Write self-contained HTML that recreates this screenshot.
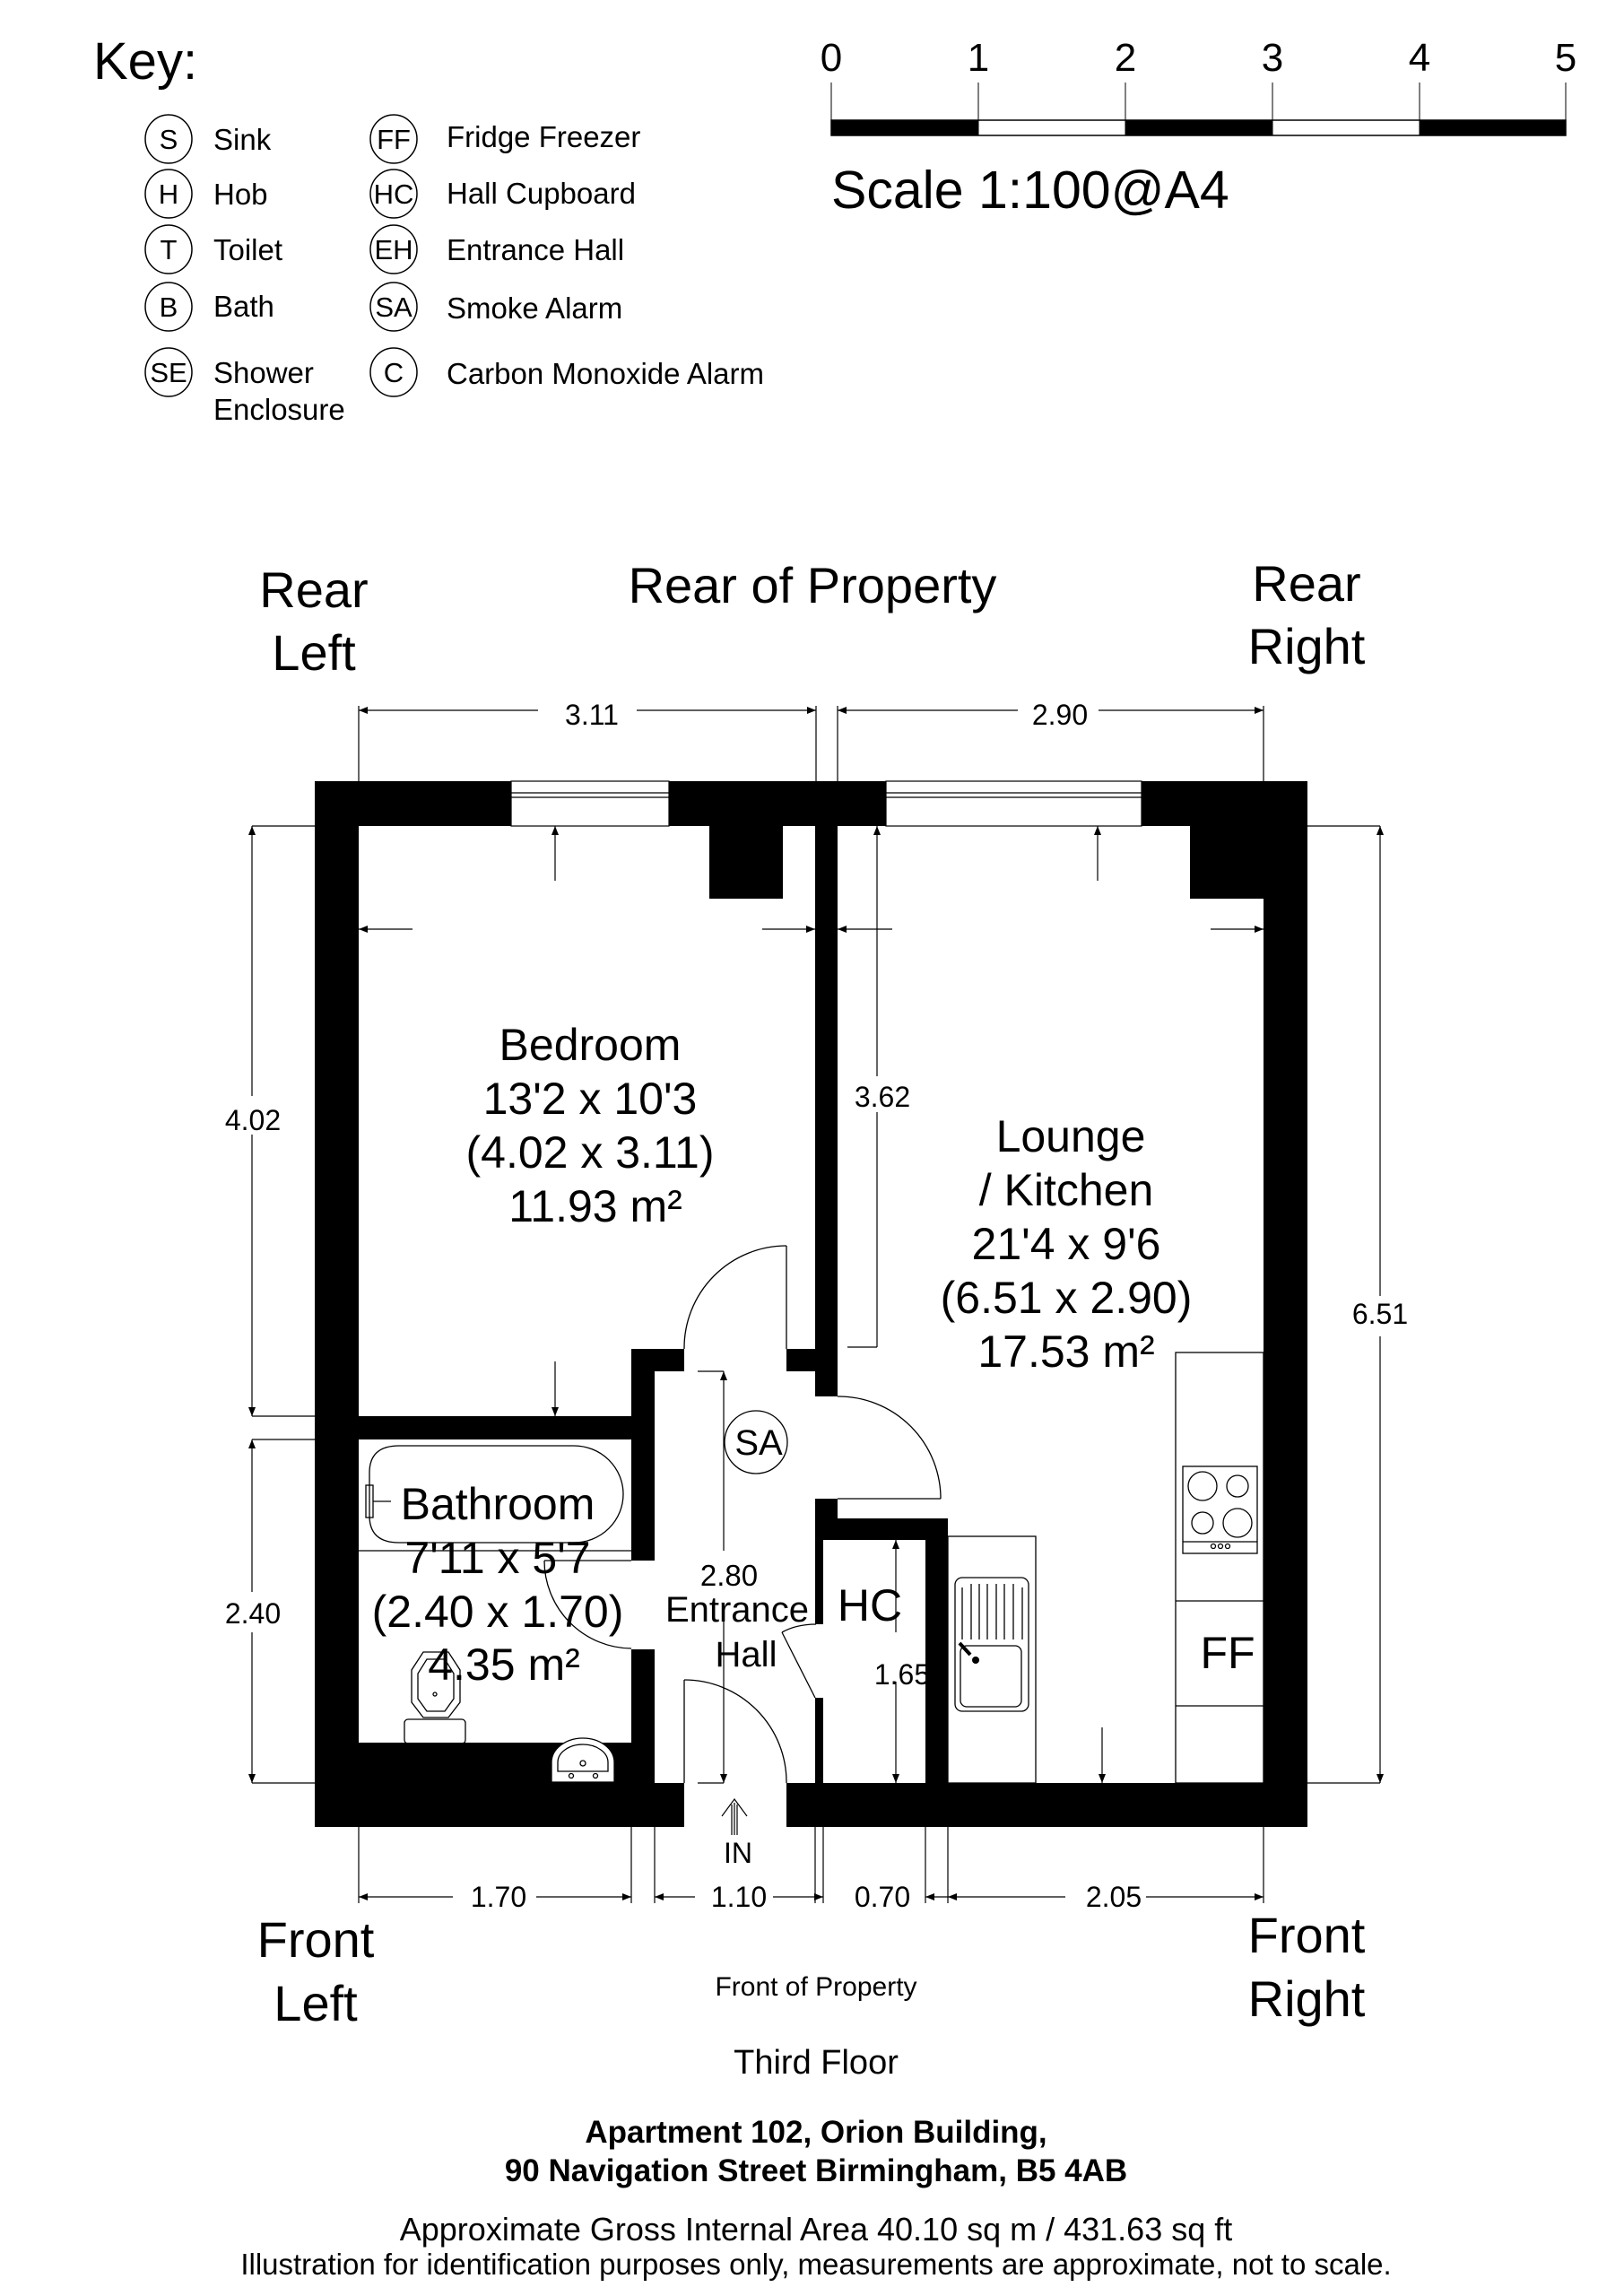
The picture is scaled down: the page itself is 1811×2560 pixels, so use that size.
<!DOCTYPE html>
<html><head><meta charset="utf-8"><style>
html,body{margin:0;padding:0;background:#fff}
svg{display:block}
text{font-family:"Liberation Sans",Arial,sans-serif;fill:#000}
</style></head><body>
<svg width="1811" height="2560" viewBox="0 0 1811 2560" xmlns="http://www.w3.org/2000/svg">
<defs>
<marker id="ah" viewBox="0 0 10 10" refX="10" refY="5" markerWidth="22" markerHeight="10" markerUnits="userSpaceOnUse" orient="auto-start-reverse"><path d="M0,1 L10,5 L0,9 z" fill="#000"/></marker>
</defs>
<text x="104" y="88" font-size="58">Key:</text>
<g fill="none" stroke="#000" stroke-width="1.5">
<ellipse cx="188" cy="155" rx="26" ry="27"/><ellipse cx="188" cy="216" rx="26" ry="27"/><ellipse cx="188" cy="278" rx="26" ry="27"/><ellipse cx="188" cy="342" rx="26" ry="27"/><ellipse cx="188" cy="415" rx="26" ry="27"/>
<ellipse cx="439" cy="155" rx="26" ry="27"/><ellipse cx="439" cy="216" rx="26" ry="27"/><ellipse cx="439" cy="278" rx="26" ry="27"/><ellipse cx="439" cy="342" rx="26" ry="27"/><ellipse cx="439" cy="415" rx="26" ry="27"/>
</g>
<g text-anchor="middle" font-size="31">
<text x="188" y="166">S</text><text x="188" y="227">H</text><text x="188" y="289">T</text><text x="188" y="353">B</text><text x="188" y="426">SE</text>
<text x="439" y="166">FF</text><text x="439" y="227">HC</text><text x="439" y="289">EH</text><text x="439" y="353">SA</text><text x="439" y="426">C</text>
</g>
<g font-size="33">
<text x="238" y="167">Sink</text><text x="238" y="228">Hob</text><text x="238" y="290">Toilet</text><text x="238" y="353">Bath</text><text x="238" y="427">Shower</text><text x="238" y="468">Enclosure</text>
<text x="498" y="164">Fridge Freezer</text><text x="498" y="227">Hall Cupboard</text><text x="498" y="290">Entrance Hall</text><text x="498" y="355">Smoke Alarm</text><text x="498" y="428">Carbon Monoxide Alarm</text>
</g>
<g font-size="44" text-anchor="middle">
<text x="927" y="79">0</text><text x="1091" y="79">1</text><text x="1255" y="79">2</text><text x="1419" y="79">3</text><text x="1583" y="79">4</text><text x="1746" y="79">5</text>
</g>
<g stroke="#000" stroke-width="1">
<line x1="927" y1="92" x2="927" y2="151"/><line x1="1091" y1="92" x2="1091" y2="151"/><line x1="1255" y1="92" x2="1255" y2="151"/><line x1="1419" y1="92" x2="1419" y2="151"/><line x1="1583" y1="92" x2="1583" y2="151"/><line x1="1746" y1="92" x2="1746" y2="151"/>
<rect x="927" y="134" width="819" height="17" fill="none" stroke-width="1.5"/>
</g>
<rect x="927" y="134" width="164" height="17"/><rect x="1255" y="134" width="164" height="17"/><rect x="1583" y="134" width="163" height="17"/>
<text x="927" y="232" font-size="59">Scale 1:100@A4</text>

<g font-size="56" text-anchor="middle">
<text x="350" y="677">Rear</text><text x="350" y="747">Left</text>
<text x="906" y="672">Rear of Property</text>
<text x="1457" y="670">Rear</text><text x="1457" y="740">Right</text>
<text x="352" y="2182">Front</text><text x="352" y="2253">Left</text>
<text x="1457" y="2177">Front</text><text x="1457" y="2248">Right</text>
</g>

<g fill="#000">
<rect x="351" y="871" width="219" height="50"/>
<rect x="746" y="871" width="242" height="50"/>
<rect x="1273" y="871" width="185" height="50"/>
<rect x="791" y="921" width="82" height="81"/>
<rect x="1327" y="921" width="82" height="81"/>
<rect x="351" y="871" width="49" height="1166"/>
<rect x="1409" y="871" width="49" height="1166"/>
<rect x="909" y="921" width="25" height="636"/>
<rect x="877" y="1504" width="57" height="25"/>
<rect x="704" y="1504" width="59" height="25"/>
<rect x="704" y="1504" width="26" height="236"/>
<rect x="704" y="1839" width="26" height="150"/>
<rect x="351" y="1579" width="379" height="26"/>
<rect x="909" y="1671" width="25" height="46"/>
<rect x="909" y="1693" width="148" height="24"/>
<rect x="1032" y="1693" width="25" height="295"/>
<rect x="909" y="1693" width="9" height="118"/>
<rect x="909" y="1893" width="9" height="95"/>
<rect x="351" y="1943" width="379" height="94"/>
<rect x="704" y="1988" width="59" height="49"/>
<rect x="877" y="1988" width="581" height="49"/>
</g>
<g fill="none" stroke="#000" stroke-width="1.2">
<rect x="570" y="871" width="176" height="50"/><line x1="570" y1="889" x2="746" y2="889"/><line x1="570" y1="884" x2="746" y2="884"/>
<rect x="988" y="871" width="285" height="50"/><line x1="988" y1="889" x2="1273" y2="889"/><line x1="988" y1="884" x2="1273" y2="884"/>
</g>

<g fill="none" stroke="#000" stroke-width="1.3">
<line x1="877" y1="1389" x2="877" y2="1504"/><path d="M877,1389 A114,114 0 0 0 763,1504"/>
<line x1="934" y1="1671" x2="1049" y2="1671"/><path d="M934,1557 A114,114 0 0 1 1049,1671"/>
<line x1="607" y1="1740" x2="704" y2="1740"/><path d="M607,1740 A98,98 0 0 0 704,1838"/>
<line x1="763" y1="1873" x2="763" y2="1988"/><path d="M763,1873 A114,114 0 0 1 877,1988"/>
<line x1="909" y1="1893" x2="872" y2="1820"/><path d="M872,1820 Q888,1811 910,1811"/>
</g>

<g stroke="#000" stroke-width="1.2" fill="none">
<line x1="400" y1="787" x2="400" y2="871"/><line x1="910" y1="787" x2="910" y2="871"/>
<line x1="934" y1="787" x2="934" y2="871"/><line x1="1409" y1="787" x2="1409" y2="871"/>
<line x1="400" y1="792" x2="600" y2="792" marker-start="url(#ah)"/><line x1="710" y1="792" x2="910" y2="792" marker-end="url(#ah)"/>
<line x1="934" y1="792" x2="1135" y2="792" marker-start="url(#ah)"/><line x1="1225" y1="792" x2="1409" y2="792" marker-end="url(#ah)"/>
<line x1="281" y1="921" x2="351" y2="921"/><line x1="281" y1="1579" x2="351" y2="1579"/>
<line x1="281" y1="921" x2="281" y2="1222" marker-start="url(#ah)"/><line x1="281" y1="1265" x2="281" y2="1579" marker-end="url(#ah)"/>
<line x1="281" y1="1605" x2="351" y2="1605"/><line x1="281" y1="1988" x2="351" y2="1988"/>
<line x1="281" y1="1605" x2="281" y2="1775" marker-start="url(#ah)"/><line x1="281" y1="1820" x2="281" y2="1988" marker-end="url(#ah)"/>
<line x1="1458" y1="921" x2="1539" y2="921"/><line x1="1458" y1="1988" x2="1539" y2="1988"/>
<line x1="1539" y1="921" x2="1539" y2="1445" marker-start="url(#ah)"/><line x1="1539" y1="1490" x2="1539" y2="1988" marker-end="url(#ah)"/>
<line x1="978" y1="921" x2="978" y2="1200" marker-start="url(#ah)"/><line x1="978" y1="1240" x2="978" y2="1502"/><line x1="945" y1="1502" x2="978" y2="1502"/>
<line x1="619" y1="982" x2="619" y2="921" marker-end="url(#ah)"/>
<line x1="619" y1="1518" x2="619" y2="1579" marker-end="url(#ah)"/>
<line x1="460" y1="1036" x2="400" y2="1036" marker-end="url(#ah)"/>
<line x1="850" y1="1036" x2="909" y2="1036" marker-end="url(#ah)"/>
<line x1="995" y1="1036" x2="934" y2="1036" marker-end="url(#ah)"/>
<line x1="1350" y1="1036" x2="1409" y2="1036" marker-end="url(#ah)"/>
<line x1="1224" y1="982" x2="1224" y2="921" marker-end="url(#ah)"/>
<line x1="1229" y1="1926" x2="1229" y2="1988" marker-end="url(#ah)"/>
<line x1="778" y1="1529" x2="807" y2="1529"/><line x1="778" y1="1988" x2="807" y2="1988"/>
<line x1="807" y1="1729" x2="807" y2="1529" marker-end="url(#ah)"/><line x1="807" y1="1790" x2="807" y2="1988" marker-end="url(#ah)"/>
<line x1="999" y1="1820" x2="999" y2="1717" marker-end="url(#ah)"/><line x1="999" y1="1875" x2="999" y2="1988" marker-end="url(#ah)"/>
<line x1="400" y1="2037" x2="400" y2="2122"/><line x1="704" y1="2037" x2="704" y2="2122"/>
<line x1="730" y1="2037" x2="730" y2="2122"/><line x1="909" y1="2037" x2="909" y2="2122"/><line x1="918" y1="2037" x2="918" y2="2122"/>
<line x1="1032" y1="2037" x2="1032" y2="2122"/><line x1="1057" y1="2037" x2="1057" y2="2122"/><line x1="1409" y1="2037" x2="1409" y2="2122"/>
<line x1="400" y1="2115" x2="505" y2="2115" marker-start="url(#ah)"/><line x1="598" y1="2115" x2="704" y2="2115" marker-end="url(#ah)"/>
<line x1="730" y1="2115" x2="775" y2="2115" marker-start="url(#ah)"/><line x1="862" y1="2115" x2="918" y2="2115" marker-end="url(#ah)"/>
<line x1="1032" y1="2115" x2="1057" y2="2115" marker-start="url(#ah)"/>
<line x1="1057" y1="2115" x2="1188" y2="2115" marker-start="url(#ah)"/><line x1="1278" y1="2115" x2="1409" y2="2115" marker-end="url(#ah)"/>
<path d="M819,2046 L819,2010 M805,2025 L819,2006 L833,2025 M816,2046 L816,2012 M822,2046 L822,2012" stroke-width="1.2"/>
</g>

<g fill="none" stroke="#000" stroke-width="1.3">
<line x1="400" y1="1729" x2="704" y2="1729"/>
<path d="M445,1612 L640,1612 A55,54 0 0 1 640,1720 L445,1720 Q412,1720 412,1690 L412,1642 Q412,1612 445,1612 Z"/>
<rect x="408" y="1656" width="8" height="36"/><line x1="416" y1="1674" x2="436" y2="1674"/>
<rect x="451" y="1917" width="68" height="27" rx="4"/>
<path d="M472,1842 L500,1842 L513,1862 L513,1898 L500,1915 L472,1915 L459,1898 L459,1862 Z"/>
<path d="M476,1850 L496,1850 L506,1866 L506,1894 L496,1908 L476,1908 L466,1894 L466,1866 Z"/>
<circle cx="485" cy="1889" r="2"/>
<path d="M615,1987 L615,1965 A35,27 0 0 1 685,1965 L685,1987 Z" fill="#fff"/>
<path d="M622,1975 L622,1965 A28,20 0 0 1 678,1965 L678,1975 Z"/>
<circle cx="650" cy="1966" r="3"/><circle cx="637" cy="1980" r="2.5"/><circle cx="664" cy="1980" r="2.5"/>
<rect x="1057" y="1713" width="98" height="275"/>
<rect x="1065" y="1759" width="82" height="149" rx="8"/>
<rect x="1071" y="1835" width="68" height="68" rx="7"/>
<path d="M1073,1770 V1828 M1083,1766 V1828 M1092,1766 V1828 M1101,1766 V1828 M1111,1766 V1828 M1120,1766 V1828 M1130,1766 V1828 M1140,1770 V1828"/>
<path d="M1070,1832 L1082,1845" stroke-width="4"/>
<rect x="1311" y="1508" width="98" height="480"/>
<line x1="1311" y1="1785" x2="1409" y2="1785"/><line x1="1311" y1="1902" x2="1409" y2="1902"/>
<rect x="1319" y="1635" width="83" height="97"/><line x1="1319" y1="1719" x2="1402" y2="1719"/>
<circle cx="1341" cy="1657" r="16"/><circle cx="1380" cy="1657" r="12"/><circle cx="1341" cy="1698" r="12"/><circle cx="1380" cy="1698" r="16"/>
<circle cx="1353" cy="1724" r="2.5"/><circle cx="1361" cy="1724" r="2.5"/><circle cx="1369" cy="1724" r="2.5"/>
<ellipse cx="843" cy="1608" rx="35" ry="35"/>
</g>
<circle cx="1088" cy="1851" r="4"/>

<g font-size="50" text-anchor="middle">
<text x="658" y="1182">Bedroom</text><text x="658" y="1242">13'2 x 10'3</text><text x="658" y="1302">(4.02 x 3.11)</text><text x="664" y="1362">11.93 m²</text>
<text x="1194" y="1284">Lounge</text><text x="1189" y="1344">/ Kitchen</text><text x="1189" y="1404">21'4 x 9'6</text><text x="1189" y="1464">(6.51 x 2.90)</text><text x="1189" y="1524">17.53 m²</text>
<text x="555" y="1694">Bathroom</text><text x="555" y="1754">7'11 x 5'7</text><text x="555" y="1814">(2.40 x 1.70)</text><text x="562" y="1873">4.35 m²</text>
</g>
<g text-anchor="middle">
<text x="822" y="1808" font-size="40">Entrance</text><text x="832" y="1858" font-size="40">Hall</text>
<text x="813" y="1768" font-size="33">2.80</text>
<text x="970" y="1807" font-size="50">HC</text>
<text x="1369" y="1860" font-size="50">FF</text>
<text x="846" y="1622" font-size="40">SA</text>
<text x="1006" y="1878" font-size="32">1.65</text>
<text x="823" y="2077" font-size="32">IN</text>
<text x="660" y="808" font-size="32">3.11</text><text x="1182" y="808" font-size="32">2.90</text>
<text x="282" y="1260" font-size="32">4.02</text><text x="282" y="1810" font-size="32">2.40</text>
<text x="1539" y="1476" font-size="32">6.51</text><text x="984" y="1234" font-size="32">3.62</text>
<text x="556" y="2126" font-size="32">1.70</text><text x="824" y="2126" font-size="32">1.10</text><text x="984" y="2126" font-size="32">0.70</text><text x="1242" y="2126" font-size="32">2.05</text>
<text x="910" y="2225" font-size="30">Front of Property</text>
<text x="910" y="2312" font-size="38">Third Floor</text>
<text x="910" y="2389" font-size="35" font-weight="bold">Apartment 102, Orion Building,</text>
<text x="910" y="2432" font-size="35" font-weight="bold">90 Navigation Street Birmingham, B5 4AB</text>
<text x="910" y="2498" font-size="36">Approximate Gross Internal Area 40.10 sq m / 431.63 sq ft</text>
<text x="910" y="2536" font-size="33">Illustration for identification purposes only, measurements are approximate, not to scale.</text>
</g>
</svg>
</body></html>
